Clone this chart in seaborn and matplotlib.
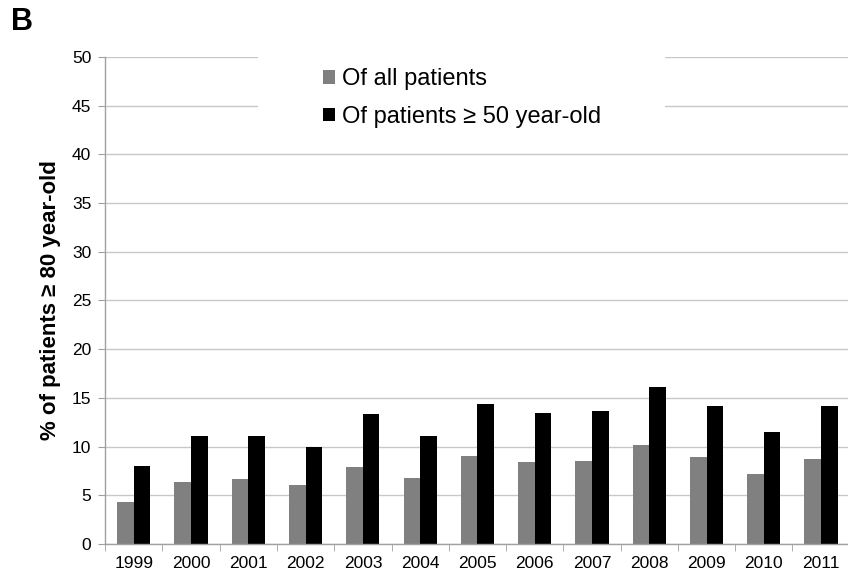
import matplotlib

matplotlib.use("Agg")
import matplotlib.pyplot as plt
import numpy as np
import pandas as pd
import seaborn as sns
from matplotlib.patches import Rectangle

years = ["1999", "2000", "2001", "2002", "2003", "2004", "2005",
         "2006", "2007", "2008", "2009", "2010", "2011"]
all_patients = [4.3, 6.4, 6.7, 6.1, 7.9, 6.8, 9.0, 8.45, 8.55, 10.2, 8.9, 7.2, 8.7]
patients_50 = [8.0, 11.1, 11.1, 10.0, 13.4, 11.1, 14.35, 13.45, 13.65, 16.1, 14.2, 11.5, 14.15]
series_names = ["Of all patients", "Of patients \u2265 50 year-old"]
y_ticks = list(range(0, 55, 5))


def main() -> None:
    sns.set_style("white")
    plt.rcParams["font.family"] = ["Liberation Sans", "DejaVu Sans"]
    plt.rcParams["text.color"] = "black"
    plt.rcParams["axes.labelcolor"] = "black"
    plt.rcParams["xtick.color"] = "black"
    plt.rcParams["ytick.color"] = "black"

    df = pd.DataFrame({
        "Year": years * 2,
        "Value": all_patients + patients_50,
        "Series": [series_names[0]] * len(years) + [series_names[1]] * len(years),
    })

    fig = plt.figure(figsize=(8.48, 5.74), dpi=100)
    ax = fig.add_axes([0.124, 0.052, 0.878, 0.849])

    sns.barplot(
        data=df, x="Year", y="Value", hue="Series", order=years,
        hue_order=series_names, palette=["#808080", "#000000"],
        saturation=1, width=0.58, gap=0, ax=ax, legend=True,
    )
    for bar in ax.patches:
        bar.set_linewidth(0)

    ax.set_ylim(0, 50)
    ax.set_xlim(-0.5, len(years) - 0.5)
    ax.set_yticks(y_ticks)
    ax.yaxis.grid(True, color="#c8c8c8", linewidth=1.0)
    ax.set_axisbelow(True)

    for side in ["top", "right"]:
        ax.spines[side].set_visible(False)
    for side in ["left", "bottom"]:
        ax.spines[side].set_color("#a0a0a0")
        ax.spines[side].set_linewidth(1.0)

    ax.tick_params(axis="y", which="major", left=True, length=5, color="#a0a0a0",
                   labelcolor="black", labelsize=12.5, pad=5)
    ax.tick_params(axis="x", which="major", bottom=False, labelcolor="black",
                   labelsize=12.5, pad=5)
    ax.set_xticks(np.arange(-0.5, len(years), 1), minor=True)
    ax.tick_params(axis="x", which="minor", bottom=True, length=5, color="#a0a0a0")

    ax.set_xlabel("")
    ax.set_ylabel("% of patients \u2265 80 year-old", fontsize=16, fontweight="bold",
                  labelpad=8)

    # white box behind the legend, breaking the top gridlines
    ax.add_patch(Rectangle((0.205, 0.86), 0.547, 0.15, transform=ax.transAxes,
                           facecolor="white", edgecolor="none", zorder=2, clip_on=False))

    handles, labels = ax.get_legend_handles_labels()
    ax.legend(handles, labels, loc="upper left", bbox_to_anchor=(0.264, 1.02),
              frameon=False, fontsize=17, handlelength=0.5, handleheight=0.5,
              handletextpad=0.3, labelspacing=0.65)

    fig.text(0.013, 0.988, "B", fontsize=22, fontweight="bold", va="top", ha="left")

    fig.savefig("out.png", dpi=100)
    plt.close(fig)


if __name__ == "__main__":
    main()
